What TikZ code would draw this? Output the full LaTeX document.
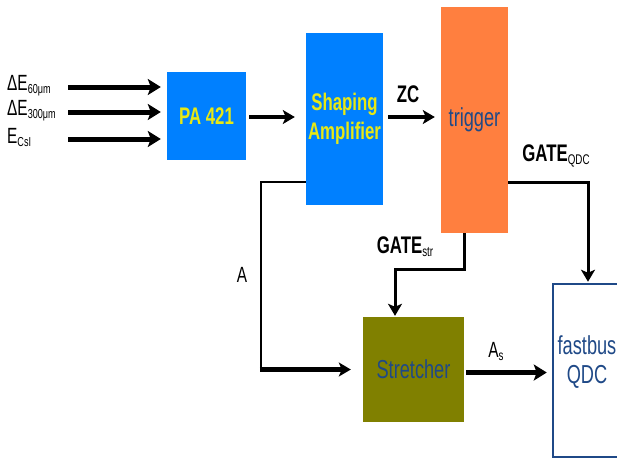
\documentclass[tikz,border=0pt]{standalone}
\usepackage{fontspec}
\setmainfont{Liberation Sans}
\newfontfamily\nf[FakeStretch=0.7]{Liberation Sans}
\usetikzlibrary{arrows.meta}
\definecolor{boxblue}{RGB}{0,128,255}
\definecolor{txtyellow}{RGB}{232,232,20}
\definecolor{trigorange}{RGB}{255,127,63}
\definecolor{olivebox}{RGB}{128,128,0}
\definecolor{darkblue}{RGB}{31,73,135}
\newcommand{\fs}[1]{\fontsize{#1}{#1}\selectfont}
\newcommand{\lowsub}[2]{\raisebox{-3pt}{\fs{#1}\mdseries #2}}
\tikzset{
  block/.style={rectangle, inner sep=0pt, align=center},
  tip/.style={-{Stealth[length=13pt,width=16pt,inset=3pt]}},
  tipm/.style={-{Stealth[length=12pt,width=14pt,inset=3pt]}},
  lbl/.style={inner sep=0pt, font=\nf\fs{24}\bfseries},
}
\begin{document}
\begin{tikzpicture}[x=1pt,y=-1pt]
\useasboundingbox (0,0) rectangle (617,459);
\clip (0,0) rectangle (617,459);
% blocks
\node[block, fill=boxblue, minimum width=79pt, minimum height=88pt, text=txtyellow, font=\nf\fs{24}\bfseries] (PA) at (206.5,116) {PA 421};
\node[block, fill=boxblue, minimum width=77pt, minimum height=172pt, text=txtyellow, font=\nf\fs{24}\bfseries] (SA) at (344.5,119) {Shaping\\[5pt]Amplifier};
\node[block, fill=trigorange, minimum width=67pt, minimum height=226pt, text=darkblue, font=\nf\fs{26}] (TR) at (474.5,120) {trigger};
\node[block, fill=olivebox, minimum width=101pt, minimum height=105pt, text=darkblue, font=\nf\fs{26}] (ST) at (413.5,369.5) {Stretcher};
\node[block, draw=darkblue, line width=2.5pt, minimum width=90pt, minimum height=173pt] (QDC) at (598,370.5) {};
\node[inner sep=0pt, text=darkblue, font=\nf\fs{26}, align=center] (QDCt) at (587,362) {fastbus\\[3pt]QDC};
% inputs
\coordinate (in1) at (68,87);
\coordinate (in2) at (68,112);
\coordinate (in3) at (68,139);
\foreach \c in {in1,in2,in3}
  \draw[tip, line width=5pt, shorten >=6pt] (\c) -- (\c -| PA.west);
\node[anchor=west, inner sep=0pt, font=\nf\fs{22}] (l1) at (7,86) {ΔE\lowsub{13}{60μm}};
\node[anchor=west, inner sep=0pt, font=\nf\fs{22}] (l2) at (7,111) {ΔE\lowsub{13}{300μm}};
\node[anchor=west, inner sep=0pt, font=\nf\fs{22}] (l3) at (7,137) {E\lowsub{13}{CsI}};
% PA -> SA
\draw[tipm, line width=4pt, shorten <=3pt, shorten >=11pt] ([yshift=-1pt]PA.east) -- ([yshift=-1pt]PA.east -| SA.west);
% ZC
\draw[tipm, line width=4pt, shorten <=5pt, shorten >=6pt] ([yshift=2pt]SA.east) -- ([yshift=2pt]SA.east -| TR.west);
\node[lbl] (zc) at (408,94) {ZC};
% A
\coordinate (abend) at (261,369.5);
\draw[line width=2.2pt] ([yshift=23pt]SA.south west) -| (abend);
\draw[tipm, line width=4.5pt, shorten >=12pt] ([xshift=-1.1pt]abend) -- (ST.west);
\node[inner sep=0pt, font=\nf\fs{22}] (alab) at (242,275) {A};
% GATE_str
\draw[tipm, line width=3pt, shorten >=1pt] ([xshift=-10.5pt]TR.south) -- ++(0,36) -| ([xshift=-18.5pt]ST.north);
\node[lbl] (gs) at (405,247) {GATE\lowsub{14}{str}};
% GATE_QDC
\draw[tipm, line width=3pt, shorten >=1pt] ([yshift=51pt]TR.south east) -| ([xshift=-10pt]QDC.north);
\node[lbl] (gq) at (556,156) {GATE\lowsub{14}{QDC}};
% As
\draw[tip, line width=5pt, shorten <=2pt, shorten >=5pt] ([yshift=-3pt]ST.east) -- ([yshift=-3pt]ST.east -| QDC.west);
\node[inner sep=0pt, font=\nf\fs{22}] (as) at (496,351) {A\lowsub{14}{s}};
\end{tikzpicture}
\end{document}
